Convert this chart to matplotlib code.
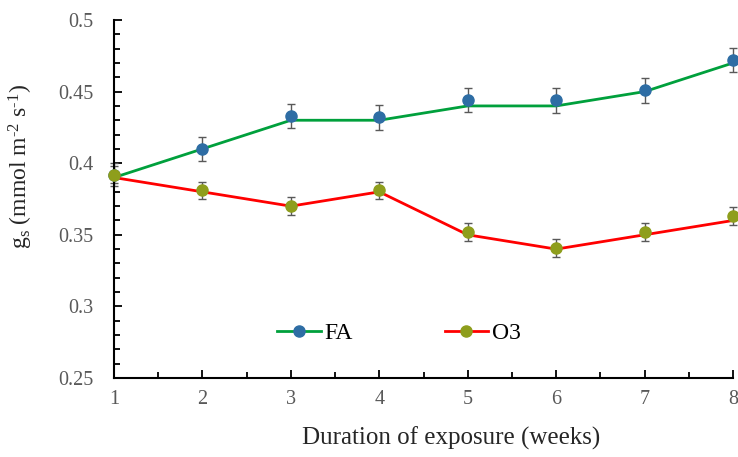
import matplotlib
matplotlib.use("Agg")
import matplotlib.pyplot as plt
from matplotlib.ticker import MultipleLocator, FuncFormatter

plt.rcParams['font.family'] = ['Liberation Serif', 'DejaVu Serif']
plt.rcParams['mathtext.fontset'] = 'custom'
plt.rcParams['mathtext.rm'] = 'Liberation Serif'
plt.rcParams['mathtext.it'] = 'Liberation Serif:italic'

weeks = [1, 2, 3, 4, 5, 6, 7, 8]

# line values (rounded) and measured means with errors
fa_line = [0.39, 0.41, 0.43, 0.43, 0.44, 0.44, 0.45, 0.47]
fa_mean = [0.392, 0.410, 0.433, 0.432, 0.444, 0.444, 0.451, 0.472]
fa_err = [0.008, 0.0085, 0.0085, 0.0085, 0.0085, 0.0086, 0.0088, 0.0085]

o3_line = [0.39, 0.38, 0.37, 0.38, 0.35, 0.34, 0.35, 0.36]
o3_mean = [0.392, 0.381, 0.370, 0.381, 0.352, 0.341, 0.352, 0.363]
o3_err = [0.006, 0.006, 0.0062, 0.0062, 0.0063, 0.0063, 0.0064, 0.0064]

fig = plt.figure(figsize=(7.38, 4.57), dpi=100)
ax = fig.add_axes([0.1545, 0.1729, 0.8387, 0.7833])

grey = '#595959'

# error bars
ax.errorbar(weeks, fa_mean, yerr=fa_err, fmt='none', ecolor=grey, elinewidth=1,
            capsize=3, capthick=1, zorder=2, clip_on=False)
ax.errorbar(weeks, o3_mean, yerr=o3_err, fmt='none', ecolor=grey, elinewidth=1,
            capsize=3, capthick=1, zorder=2, clip_on=False)

# lines
ax.plot(weeks, fa_line, color='#00A03C', lw=2, zorder=3, clip_on=False)
ax.plot(weeks, o3_line, color='#FF0000', lw=2, zorder=3, clip_on=False)

# markers
ax.plot(weeks, fa_mean, 'o', color='#2E6DA4', ms=8, zorder=4, clip_on=False)
ax.plot(weeks, o3_mean, 'o', color='#8E9E1C', ms=8, zorder=5, clip_on=False)

# legend proxies
ax.plot([], [], color='#00A03C', lw=2, marker='o', mfc='#2E6DA4', mec='#2E6DA4',
        ms=8, label='FA')
ax.plot([], [], color='#FF0000', lw=2, marker='o', mfc='#8E9E1C', mec='#8E9E1C',
        ms=8, label='O3')
ax.legend(loc='center', bbox_to_anchor=(0.46, 0.125), ncol=2, frameon=False,
          fontsize=17, handlelength=1.85, handletextpad=0.15, columnspacing=3.9)

ax.set_xlim(1, 8)
ax.set_ylim(0.25, 0.5)
ax.xaxis.set_major_locator(MultipleLocator(1))
ax.xaxis.set_minor_locator(MultipleLocator(0.5))
ax.yaxis.set_major_locator(MultipleLocator(0.05))
ax.yaxis.set_minor_locator(MultipleLocator(0.01))
ax.yaxis.set_major_formatter(FuncFormatter(lambda v, p: '%g' % round(v, 2)))

ax.tick_params(which='both', direction='in', width=1.3, colors='black',
               labelcolor=grey, labelsize=14.5)
ax.tick_params(which='major', length=6)
ax.tick_params(which='minor', length=4)
ax.tick_params(axis='y', which='major', pad=15)
ax.tick_params(axis='x', which='major', pad=9)

for s in ['top', 'right']:
    ax.spines[s].set_visible(False)
for s in ['left', 'bottom']:
    ax.spines[s].set_linewidth(1.5)

ax.set_xlabel('Duration of exposure (weeks)', fontsize=18, color='#262626')
ax.xaxis.set_label_coords(0.545, -0.135)
ax.set_ylabel(r'$\mathregular{g_s}$ (mmol m$^{\text{-2}}$ s$^{\text{-1}}$)',
              fontsize=17, color='#262626')
ax.yaxis.set_label_coords(-0.128, 0.59)

fig.savefig('out.png', dpi=100)
